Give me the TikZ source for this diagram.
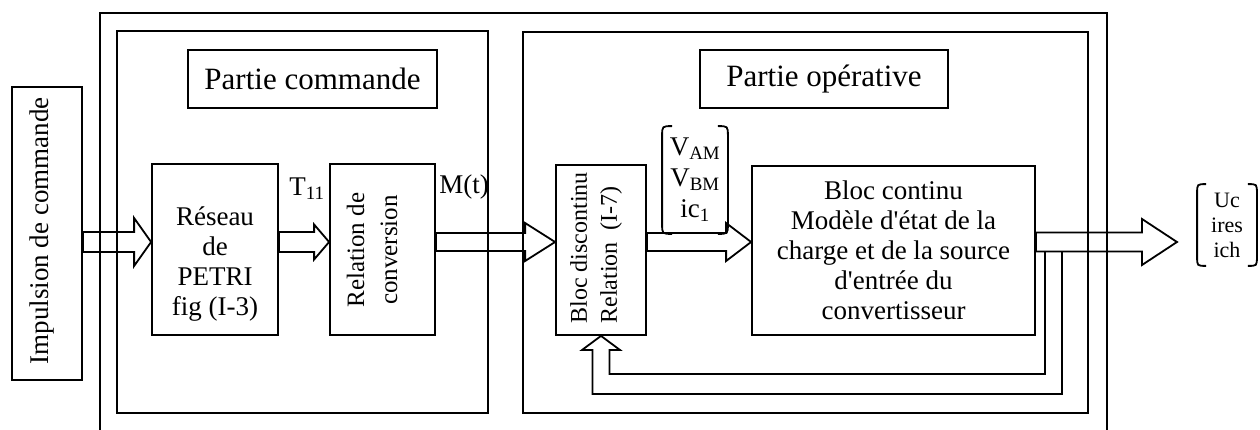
\documentclass[tikz,border=0pt]{standalone}
\usepackage{fontspec}
\setmainfont{Liberation Serif}
\usetikzlibrary{calc}
\newcommand\fontTitle{\fontsize{31}{36}\selectfont}
\newcommand\fontBody{\fontsize{27}{30}\selectfont}
\newcommand\fontRel{\fontsize{25}{33}\selectfont}
\newcommand\fontDis{\fontsize{24}{30}\selectfont}
\newcommand\fontOut{\fontsize{22}{25}\selectfont}
\newcommand\fontV{\fontsize{27}{31}\selectfont}
% hollow arrow pointing right: #1 start, #2 tip, #3 half shaft, #4 half head, #5 head length
\newcommand\hollowright[5]{%
  \draw[harrow] let \p1=(#1), \p2=(#2) in
    (\x1,\y2+#3) -- (\x2-#5,\y2+#3) -- (\x2-#5,\y2+#4) -- (\x2,\y2)
    -- (\x2-#5,\y2-#4) -- (\x2-#5,\y2-#3) -- (\x1,\y2-#3) -- cycle;}
% round brackets on both sides of node #1, corner size #2
\newcommand\drawparens[2]{%
  \draw ([xshift=#2]#1.north west) .. controls (#1.north west) .. ([yshift=-#2]#1.north west)
        -- ([yshift=#2]#1.south west) .. controls (#1.south west) .. ([xshift=#2]#1.south west);
  \draw ([xshift=-#2]#1.north east) .. controls (#1.north east) .. ([yshift=-#2]#1.north east)
        -- ([yshift=#2]#1.south east) .. controls (#1.south east) .. ([xshift=-#2]#1.south east);}
\begin{document}
\begin{tikzpicture}[x=1pt,y=-1pt,line width=1.8pt,
  box/.style={draw,rectangle,inner sep=0pt,align=center},
  harrow/.style={draw,line width=1.8pt,line join=miter},
  lbl/.style={inner sep=0pt,align=center}]
\useasboundingbox (0,0) rectangle (1260,430);
\fill[white] (0,0) rectangle (1260,430);

% outer frame (open at the bottom)
\coordinate (oBL) at (100,430);
\coordinate (oTL) at (100,13);
\coordinate (oTR) at (1107,13);
\coordinate (oBR) at (1107,430);
\draw (oBL) -- (oTL) -- (oTR) -- (oBR);

% frames
\node[box,minimum width=371pt,minimum height=382pt] (fc) at (302.5,222) {};
\node[box,minimum width=565pt,minimum height=381pt] (fo) at (805.5,222.5) {};

% titles
\node[box,minimum width=249pt,minimum height=58pt,font=\fontTitle] (tc) at (312.5,79) {Partie commande};
\node[box,minimum width=248pt,minimum height=58pt,font=\fontTitle] (to) at (824,79) {Partie opérative};

% impulsion
\node[box,minimum width=70pt,minimum height=293pt] (imp) at (47,233.5) {};
\node[lbl,rotate=90,font=\fontBody] (impt) at (42,231) {Impulsion de commande};

% reseau de petri
\node[box,minimum width=126pt,minimum height=171pt] (res) at (215,249.5) {};
\node[lbl,font=\fontBody] (rest) at (215,264) {Réseau\\de\\PETRI\\fig (I-3)};

% relation de conversion
\node[box,minimum width=105pt,minimum height=171pt] (rel) at (382.5,249.5) {};
\node[lbl,rotate=90,font=\fontRel] (relt) at (372,250) {Relation de\\conversion};

% bloc discontinu
\node[box,minimum width=90pt,minimum height=170pt] (bd) at (601,250) {};
\node[lbl,rotate=90,font=\fontDis,align=left] (bdt) at (596,248) {Bloc discontinu\\Relation~~(I-7)};

% bloc continu
\node[box,minimum width=283pt,minimum height=169pt,font=\fontBody] (bc) at (893.5,250.5)
  {Bloc continu\\Modèle d\textquotesingle état de la\\charge et de la source\\d\textquotesingle entrée du\\convertisseur};

% labels
\node[lbl,font=\fontBody] (t11) at (307,189) {T\textsubscript{11}};
\node[lbl,font=\fontBody] (mt) at (464,187) {M(t)};

% V group
\node[lbl,minimum width=64pt,minimum height=106pt,font=\fontV] (vg) at (695,180)
  {V\textsubscript{AM}\\V\textsubscript{BM}\\ic\textsubscript{1}};
\drawparens{vg}{10pt}

% output group
\node[lbl,minimum width=58pt,minimum height=80pt,font=\fontOut] (ov) at (1227,225) {Uc\\ires\\ich};
\drawparens{ov}{9pt}

% arrows
\coordinate (aY) at (0,242);
\coordinate (outtip) at (1177,242);
\hollowright{imp.east |- aY}{res.west |- aY}{10pt}{24pt}{17pt}
\hollowright{res.east |- aY}{rel.west |- aY}{10pt}{17.5pt}{15pt}
\hollowright{rel.east |- aY}{bd.west |- aY}{9pt}{19pt}{30pt}
\hollowright{bd.east |- aY}{bc.west |- aY}{9pt}{19pt}{25pt}
\hollowright{bc.east |- aY}{outtip}{9.5pt}{23pt}{35pt}

% feedback
\coordinate (shaftB) at (0,251.5);
\coordinate (fbOuter) at (0,394);
\coordinate (fbInner) at (0,374);
\coordinate (fbHead) at (0,350);
\coordinate (fbX1) at (1045,0);
\coordinate (fbX2) at (1062,0);
\draw[harrow] (fbX2 |- shaftB) -- (fbX2 |- fbOuter)
  -- ([xshift=-8.5pt]bd.south |- fbOuter) -- ([xshift=-8.5pt]bd.south |- fbHead)
  -- ([xshift=-19pt]bd.south |- fbHead) -- (bd.south)
  -- ([xshift=19pt]bd.south |- fbHead) -- ([xshift=8.5pt]bd.south |- fbHead)
  -- ([xshift=8.5pt]bd.south |- fbInner) -- (fbX1 |- fbInner) -- (fbX1 |- shaftB);
\end{tikzpicture}
\end{document}
